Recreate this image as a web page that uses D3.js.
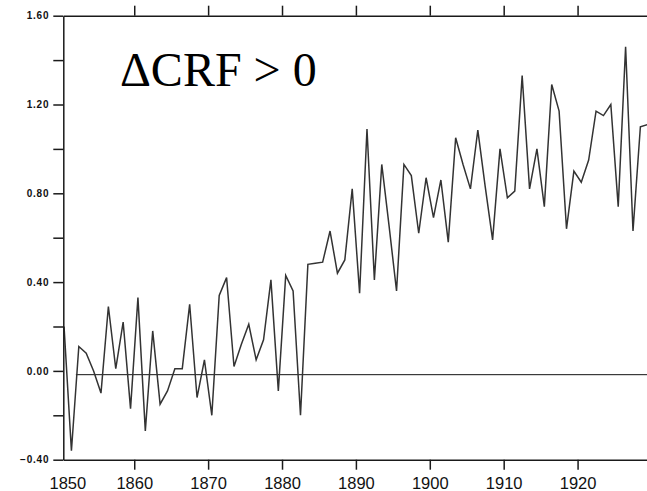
<!DOCTYPE html>
<html>
<head>
<meta charset="utf-8">
<script src="https://cdn.jsdelivr.net/npm/d3@7"></script>
<style>
  html, body { margin: 0; padding: 0; background: #fff; }
  svg { display: block; }
</style>
</head>
<body>
<svg id="chart"></svg>
<script>
// annual values, 1850..1929 (plotted at mid-year)
const years = d3.range(1850, 1930);
const values = [
  0.20, -0.36, 0.11, 0.08, 0.00, -0.10, 0.29, 0.01, 0.22, -0.17,
  0.33, -0.27, 0.18, -0.15, -0.09, 0.01, 0.01, 0.30, -0.12, 0.05,
  -0.20, 0.34, 0.42, 0.02, 0.12, 0.21, 0.05, 0.14, 0.41, -0.09,
  0.43, 0.36, -0.20, 0.48, 0.485, 0.49, 0.63, 0.44, 0.50, 0.82,
  0.35, 1.09, 0.41, 0.93, 0.65, 0.36, 0.93, 0.88, 0.62, 0.87,
  0.69, 0.86, 0.58, 1.05, 0.93, 0.82, 1.085, 0.83, 0.59, 1.00,
  0.78, 0.81, 1.33, 0.82, 1.00, 0.74, 1.29, 1.17, 0.64, 0.90,
  0.85, 0.95, 1.17, 1.15, 1.20, 0.74, 1.46, 0.63, 1.10, 1.11
];
const xTicks = [1850, 1860, 1870, 1880, 1890, 1900, 1910, 1920];
const yTicks = [-0.4, -0.2, 0.0, 0.2, 0.4, 0.6, 0.8, 1.0, 1.2, 1.4, 1.6];
const yLabelled = [-0.4, 0.0, 0.4, 0.8, 1.2, 1.6];
const refValue = -0.017;   // horizontal reference line
const refFrom = 1852.1;
const annotation = "\u0394CRF > 0";

const width = 647, height = 491;
const mLeft = 63.3, mTop = 15.7, mBottom = 459.7;
const pxPerYear = 7.389;

const svg = d3.select('#chart').attr('width', width).attr('height', height);

const x = d3.scaleLinear()
  .domain([1850.4, 1930.4])
  .range([mLeft, mLeft + 80 * pxPerYear]);
const y = d3.scaleLinear().domain([-0.4, 1.6]).range([mBottom, mTop]);

const plotW = x.range()[1] - mLeft;

svg.append('defs').append('clipPath').attr('id', 'clip')
  .append('rect').attr('x', mLeft).attr('y', mTop)
  .attr('width', plotW).attr('height', mBottom - mTop);

const plot = svg.append('g').attr('clip-path', 'url(#clip)');

// reference line
plot.append('line')
  .attr('x1', x(refFrom)).attr('x2', x.range()[1])
  .attr('y1', y(refValue)).attr('y2', y(refValue))
  .attr('stroke', '#111').attr('stroke-width', 1);

// series
const line = d3.line()
  .x((d, i) => x(years[i] + 0.5))
  .y(d => y(d));

plot.append('path')
  .datum(values)
  .attr('fill', 'none')
  .attr('stroke', '#333')
  .attr('stroke-width', 1.5)
  .attr('stroke-linejoin', 'miter')
  .attr('d', line);

// axes
function style(g) {
  g.selectAll('path,line').attr('stroke', '#1a1a1a').attr('stroke-width', 1.5);
}

svg.append('g')
  .attr('transform', `translate(0,${mBottom})`)
  .call(d3.axisBottom(x).tickValues(xTicks).tickSize(10).tickSizeOuter(0).tickPadding(8).tickFormat(d3.format('d')))
  .call(style)
  .call(g => g.selectAll('text')
    .attr('font-family', 'Liberation Sans, Arial, sans-serif')
    .attr('font-size', 16.5).attr('fill', '#111'))
  .call(g => {
    const first = g.selectAll('.tick').filter(d => d === 1850);
    first.select('line').remove();   // falls on the axis corner
    first.select('text').attr('dx', 7);
  });

svg.append('g')
  .attr('transform', `translate(0,${mTop})`)
  .call(d3.axisTop(x).tickValues(xTicks.filter(d => d > 1850)).tickSize(10).tickSizeOuter(0).tickFormat(''))
  .call(style);

svg.append('g')
  .attr('transform', `translate(${mLeft},0)`)
  .call(d3.axisLeft(y).tickValues(yTicks).tickSize(10).tickSizeOuter(0).tickPadding(4)
    .tickFormat(d => yLabelled.some(v => Math.abs(v - d) < 1e-9) ? d3.format('.2f')(d) : ''))
  .call(style)
  .call(g => g.selectAll('text')
    .attr('font-family', 'Liberation Sans, Arial, sans-serif')
    .attr('font-size', 10).attr('font-weight', 'bold')
    .attr('letter-spacing', '0.8px').attr('fill', '#111'));

// annotation
svg.append('text')
  .attr('x', 120).attr('y', 86)
  .attr('font-family', 'Liberation Serif, Times New Roman, serif')
  .attr('font-size', 48)
  .attr('fill', '#000')
  .text(annotation);
</script>
</body>
</html>
